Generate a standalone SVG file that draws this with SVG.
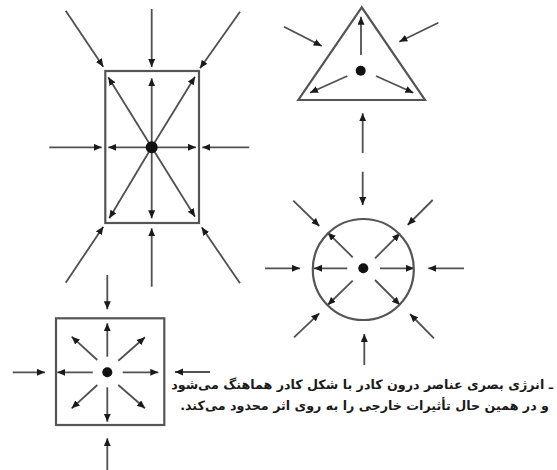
<svg xmlns="http://www.w3.org/2000/svg" width="557" height="470" viewBox="0 0 557 470">
<style>
.bg{fill:#fff}
.shape{fill:none;stroke:#555;stroke-width:2.2}
.dot{fill:#111}
.arr{stroke:#505050;stroke-width:1.8;fill:none;marker-end:url(#ah)}
.cap{font-family:"DejaVu Sans",sans-serif;font-weight:bold;font-size:12.7px;fill:#1a1a1a}
</style>
<defs>
<marker id="ah" markerUnits="userSpaceOnUse" markerWidth="10" markerHeight="8" refX="8" refY="3.5" orient="auto">
<path d="M0,0 L8,3.5 L0,7 Z" fill="#1a1a1a"/>
</marker>
</defs>
<rect class="bg" width="557" height="470"/>

<g id="connectors">
<!-- rectangle external -->
<line class="arr" x1="151.7" y1="9" x2="151.7" y2="67"/>
<line class="arr" x1="65.7" y1="10.7" x2="103.3" y2="66.7"/>
<line class="arr" x1="240" y1="11.7" x2="200" y2="68.3"/>
<line class="arr" x1="49.3" y1="147.3" x2="101.7" y2="147.3"/>
<line class="arr" x1="249.3" y1="147.3" x2="202.3" y2="147.3"/>
<line class="arr" x1="65.7" y1="282.7" x2="103.3" y2="226.7"/>
<line class="arr" x1="151.7" y1="286.7" x2="151.7" y2="228.3"/>
<line class="arr" x1="240" y1="283.3" x2="201.7" y2="227.3"/>
<!-- rectangle internal -->
<line class="arr" x1="151.7" y1="147.3" x2="151.7" y2="78.3"/>
<line class="arr" x1="151.7" y1="147.3" x2="108.3" y2="77.3"/>
<line class="arr" x1="151.7" y1="147.3" x2="195" y2="76.7"/>
<line class="arr" x1="151.7" y1="147.3" x2="108.3" y2="147.3"/>
<line class="arr" x1="151.7" y1="147.3" x2="196" y2="147.3"/>
<line class="arr" x1="151.7" y1="147.3" x2="109.3" y2="218.3"/>
<line class="arr" x1="151.7" y1="147.3" x2="151.7" y2="218.3"/>
<line class="arr" x1="151.7" y1="147.3" x2="195" y2="216.7"/>
<!-- triangle -->
<line class="arr" x1="361" y1="55" x2="361" y2="16.7"/>
<line class="arr" x1="347.3" y1="76" x2="310" y2="92.7"/>
<line class="arr" x1="376" y1="76" x2="413.3" y2="92.7"/>
<line class="arr" x1="284" y1="26.7" x2="321.7" y2="46"/>
<line class="arr" x1="438.3" y1="22.7" x2="399.3" y2="41.7"/>
<line class="arr" x1="362.7" y1="153" x2="362.7" y2="113.3"/>
<!-- circle -->
<line class="arr" x1="362.7" y1="171.7" x2="362.7" y2="205"/>
<line class="arr" x1="347.3" y1="268.3" x2="314" y2="268.3"/>
<line class="arr" x1="380" y1="268.3" x2="414" y2="268.3"/>
<line class="arr" x1="352.7" y1="257.3" x2="327.7" y2="232.7"/>
<line class="arr" x1="375" y1="258.3" x2="400" y2="233.3"/>
<line class="arr" x1="352.7" y1="280.7" x2="327.7" y2="305"/>
<line class="arr" x1="375" y1="280" x2="400" y2="305"/>
<line class="arr" x1="265" y1="268.3" x2="300" y2="268.3"/>
<line class="arr" x1="464" y1="268.3" x2="428.3" y2="268.3"/>
<line class="arr" x1="293.3" y1="200.7" x2="319.3" y2="226"/>
<line class="arr" x1="432.7" y1="200" x2="407.7" y2="225"/>
<line class="arr" x1="294" y1="337.3" x2="319.3" y2="313.3"/>
<line class="arr" x1="434" y1="338.3" x2="410" y2="314"/>
<line class="arr" x1="364.3" y1="365" x2="364.3" y2="334"/>
<!-- square -->
<line class="arr" x1="107.3" y1="356.7" x2="107.3" y2="323.3"/>
<line class="arr" x1="107.3" y1="387.3" x2="107.3" y2="421.7"/>
<line class="arr" x1="92.7" y1="372.3" x2="57.3" y2="372.3"/>
<line class="arr" x1="122.7" y1="372.3" x2="158.3" y2="372.3"/>
<line class="arr" x1="97.3" y1="360" x2="71.7" y2="336.7"/>
<line class="arr" x1="118.3" y1="360.7" x2="145" y2="337.3"/>
<line class="arr" x1="97.3" y1="385" x2="71.7" y2="408.3"/>
<line class="arr" x1="118.3" y1="385" x2="145" y2="408.3"/>
<line class="arr" x1="107.3" y1="275" x2="107.3" y2="309.3"/>
<line class="arr" x1="12.7" y1="372.3" x2="45" y2="372.3"/>
<line class="arr" x1="210" y1="372" x2="175" y2="372"/>
<line class="arr" x1="107.3" y1="470" x2="107.3" y2="438.3"/>
</g>

<g id="rectangle">
<rect class="shape" x="105.3" y="71" width="93.7" height="152"/>
<circle class="dot" cx="151.7" cy="147.3" r="6"/>
</g>
<g id="triangle">
<polygon class="shape" points="361.7,7.3 298.3,100 425,100"/>
<circle class="dot" cx="360.7" cy="70.7" r="5"/>
</g>
<g id="circle">
<circle class="shape" cx="363.3" cy="269.5" r="50.5"/>
<circle class="dot" cx="363.3" cy="268.3" r="5"/>
</g>
<g id="square">
<rect class="shape" x="56" y="318.3" width="108.3" height="106.7"/>
<circle class="dot" cx="107.3" cy="372.3" r="5"/>
</g>
<g id="caption">
<text class="cap" x="553" y="389" direction="rtl" text-anchor="start">ـ انرژی بصری عناصر درون کادر با شکل کادر هماهنگ می‌شود</text>
<text class="cap" x="549" y="410" direction="rtl" text-anchor="start">و در همین حال تأثیرات خارجی را به روی اثر محدود می‌کند.</text>
</g>
</svg>
